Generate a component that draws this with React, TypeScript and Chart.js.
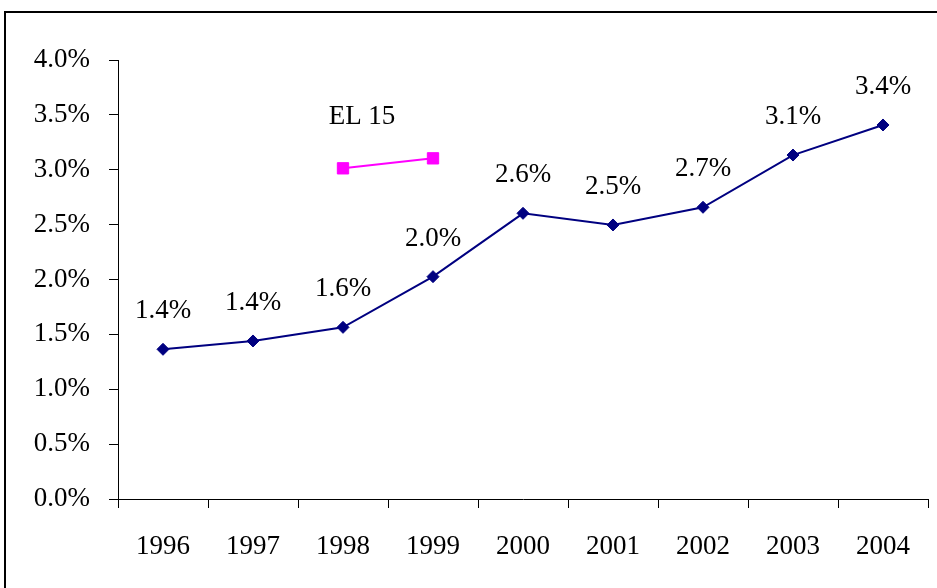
import React, { useEffect, useRef } from "react";
import { Chart, registerables } from "chart.js";

Chart.register(...registerables);

const years = ["1996", "1997", "1998", "1999", "2000", "2001", "2002", "2003", "2004"];
const mainValues = [1.364, 1.44, 1.564, 2.026, 2.603, 2.497, 2.658, 3.134, 3.408];
const el15Values = [null, null, 3.013, 3.104, null, null, null, null, null];
const el15Label = "EL 15";
const yMin = 0;
const yMax = 4;
const yStep = 0.5;

const FONT = "'Liberation Serif', 'Times New Roman', serif";
const FS = 27;

const labelPlugin = {
  id: "customLabels",
  beforeDraw(chart: any) {
    const ctx = chart.ctx;
    ctx.save();
    ctx.strokeStyle = "#000";
    ctx.lineWidth = 2;
    ctx.strokeRect(5, 12, 2000, 2000);
    ctx.restore();
  },
  afterDatasetsDraw(chart: any) {
    const ctx = chart.ctx;
    ctx.save();
    ctx.font = `${FS}px ${FONT}`;
    ctx.fillStyle = "#000";
    ctx.textAlign = "center";
    ctx.textBaseline = "alphabetic";
    const m0 = chart.getDatasetMeta(0);
    m0.data.forEach((pt: any, i: number) => {
      const v = mainValues[i];
      ctx.fillText(v.toFixed(1) + "%", pt.x, pt.y - 31);
    });
    const m1 = chart.getDatasetMeta(1);
    const first = el15Values.findIndex((v) => v !== null);
    if (first >= 0) {
      const pt = m1.data[first];
      ctx.fillText(el15Label, pt.x + 19, pt.y - 44);
    }
    ctx.restore();
  },
};

export default function App() {
  const ref = useRef<HTMLCanvasElement>(null);
  useEffect(() => {
    if (!ref.current) return;
    const chart = new Chart(ref.current, {
      type: "line",
      data: {
        labels: years,
        datasets: [
          {
            data: mainValues,
            borderColor: "#000080",
            backgroundColor: "#000080",
            borderWidth: 2,
            pointStyle: "rectRot",
            pointRadius: 6,
            pointBorderWidth: 1,
            pointBackgroundColor: "#000080",
            pointBorderColor: "#000080",
            tension: 0,
          },
          {
            data: el15Values,
            borderColor: "#FF00FF",
            backgroundColor: "#FF00FF",
            borderWidth: 2,
            pointStyle: "rect",
            pointRadius: 8,
            pointBorderWidth: 1,
            pointBackgroundColor: "#FF00FF",
            pointBorderColor: "#FF00FF",
            spanGaps: false,
            tension: 0,
          },
        ],
      },
      options: {
        responsive: false,
        maintainAspectRatio: false,
        animation: false,
        layout: { padding: { left: 0, top: 60, right: 6, bottom: 0 } },
        plugins: {
          legend: { display: false },
          tooltip: { enabled: false },
          title: { display: false },
        },
        scales: {
          x: {
            offset: true,
            grid: {
              offset: true,
              drawOnChartArea: false,
              drawTicks: true,
              tickLength: 9,
              color: "#000",
              lineWidth: 1,
            },
            border: { display: true, color: "#000", width: 1 },
            ticks: {
              color: "#000",
              font: { family: FONT, size: FS },
              padding: 23,
              maxRotation: 0,
              autoSkip: false,
            },
            afterFit(scale: any) {
              scale.height = 89;
            },
          },
          y: {
            min: yMin,
            max: yMax,
            grid: {
              drawOnChartArea: false,
              drawTicks: true,
              tickLength: 9,
              color: "#000",
              lineWidth: 1,
            },
            border: { display: true, color: "#000", width: 1 },
            ticks: {
              stepSize: yStep,
              color: "#000",
              font: { family: FONT, size: FS },
              padding: 19,
              callback: (v: any) => Number(v).toFixed(1) + "%",
            },
            afterFit(scale: any) {
              scale.width = 118;
            },
          },
        },
      },
      plugins: [labelPlugin],
    });
    return () => chart.destroy();
  }, []);
  return (
    <div style={{ position: "absolute", left: 0, top: 0, width: 937, height: 588, background: "#fff" }}>
      <canvas ref={ref} width={937} height={588} style={{ display: "block" }} />
    </div>
  );
}
